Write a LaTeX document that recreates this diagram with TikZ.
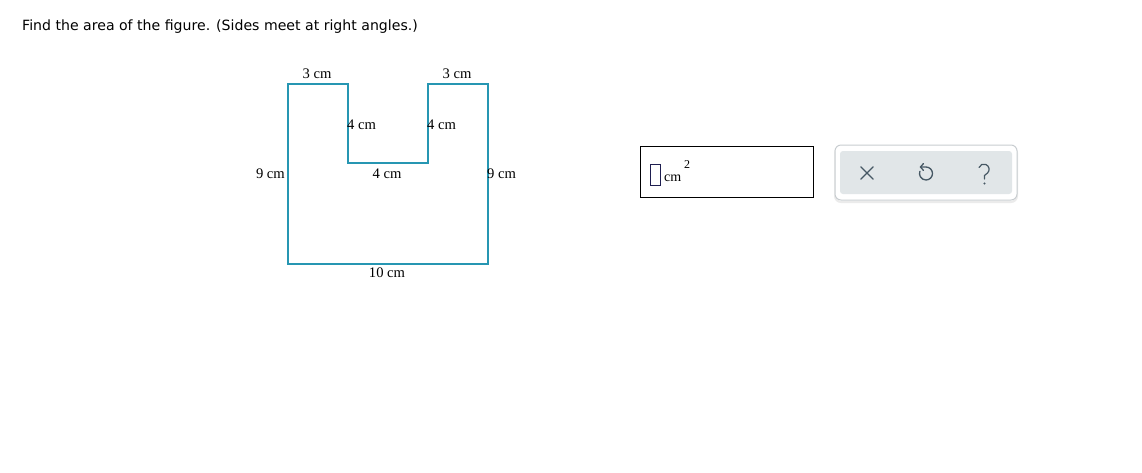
\documentclass[tikz,border=0pt]{standalone}
\usepackage{fontspec}
\setmainfont{Liberation Serif}
\newfontfamily\verd{DejaVu Sans}
\usetikzlibrary{arrows.meta}
\definecolor{teal1}{RGB}{38,150,178}
\definecolor{panelfill}{RGB}{225,230,232}
\definecolor{paneledge}{RGB}{200,205,208}
\definecolor{iconc}{RGB}{70,88,100}
\definecolor{navy}{RGB}{30,30,80}
\tikzset{
  dimlab/.style={inner sep=0pt, font=\fontsize{14.6}{15}\selectfont},
  shapeline/.style={draw=teal1, line width=2pt, line join=miter},
  icon/.style={draw=iconc, line width=1.3pt, line cap=round}
}
\begin{document}
\begin{tikzpicture}[x=1pt,y=-1pt]
\useasboundingbox[fill=white] (0,0) rectangle (1142,472);
% question
\node[anchor=west, inner sep=0pt, font=\verd\fontsize{14.1}{16}\selectfont] (q) at (22,27) {Find the area of the figure. (Sides meet at right angles.)};
% figure
\draw[shapeline] (288,84) -- (348,84) -- (348,163) -- (428,163) -- (428,84) -- (488,84) -- (488,264) -- (288,264) -- cycle;
\node[dimlab] (t1) at (317,74) {3 cm};
\node[dimlab] (t2) at (457,74) {3 cm};
\node[dimlab, anchor=west] (l1) at (347,125) {4 cm};
\node[dimlab, anchor=west] (l2) at (427,125) {4 cm};
\node[dimlab, anchor=east] (s1) at (285,174) {9 cm};
\node[dimlab] (m1) at (387,174) {4 cm};
\node[dimlab, anchor=west] (s2) at (487,174) {9 cm};
\node[dimlab] (b1) at (387,273) {10 cm};
% answer box
\draw[black, line width=1pt] (640,146) rectangle (813,197);
\node[draw=navy, line width=1pt, minimum width=10pt, minimum height=21pt, inner sep=0pt] (ib) at (655,175) {};
\node[inner sep=0pt, anchor=west, font=\fontsize{14}{15}\selectfont] (cm) at (664,178) {cm};
\node[inner sep=0pt, font=\fontsize{12}{13}\selectfont] (sq) at (687,165) {2};
% button panel
\draw[rounded corners=6pt, draw=black!8, line width=2pt] (835,147) rectangle (1017,202);
\draw[rounded corners=6pt, draw=paneledge, fill=white, line width=1pt] (835,145) rectangle (1017,200);
\fill[panelfill, rounded corners=3pt] (840,151) rectangle (1012,194);
\node[inner sep=0pt, minimum size=12pt] (x) at (867,173) {};
\draw[icon] (x.north west) -- (x.south east) (x.north east) -- (x.south west);
\node[inner sep=0pt, minimum size=14pt] (u) at (926,174) {};
\draw[icon] (920.5,167) -- (926,167) arc[start angle=90, end angle=-200, radius=6.5pt];
\draw[icon] (923.5,163.5) -- (920.5,167) -- (923.5,170.5);
\node[inner sep=0pt, minimum width=12pt, minimum height=22pt] (h) at (984,173) {};
\draw[icon, line width=1.2pt] (979,167.5) arc[start angle=160, end angle=-45, radius=5.2pt] -- (984.5,175.5) -- (984.5,179);
\fill[iconc] (984.5,183.5) circle[radius=1.1pt];
\end{tikzpicture}
\end{document}
